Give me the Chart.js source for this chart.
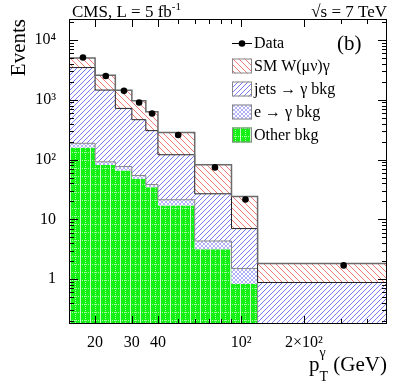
<!DOCTYPE html>
<html><head><meta charset="utf-8">
<script src="https://cdn.jsdelivr.net/npm/chart.js@4"></script>
<style>html,body{margin:0;padding:0;background:#fff}</style>
</head><body>
<canvas id="c" width="407" height="391"></canvas>
<script>
// ---- data ----
const binEdges=[15,20,25,30,35,40,60,90,120,500];          // pT bin edges (GeV)
const dataCenters=[17.5,22.5,27.5,32.5,37.5,50,75,105,310];
const dataCounts=[5100,2500,1410,900,590,258,74,21.5,1.7];
const otherBkg=[158,81,65.6,47.7,34.5,17.1,3.16,0.83,0.05];
const eToGamma=[29,10.6,10.8,6.4,3.8,4.2,1.19,0.68,0.03];
const jetsToGamma=[3266,1360,640,410,266,99,22.4,5.5,0.80];
const smWgamma=[1559,1129,723,498,327,162,54.8,17,0.95];
const xTickValues=[20,30,40,100,200];
const xTickLabels=['20','30','40','10²','2×10²'];
const yTickValues=[1,10,100,1000,10000];
const yTickLabels=['1','10','10²','10³','10⁴'];
const xTickMarks=[20,30,40,50,60,70,80,90,100,200,300,400];

const canvas=document.getElementById('c');
const ctx=canvas.getContext('2d');

function cumulative(arrs){let acc=arrs[0].map(()=>0);return arrs.map(a=>{acc=acc.map((v,i)=>v+a[i]);return acc.slice();});}
const [cGreen,cE,cJets,cSM]=cumulative([otherBkg,eToGamma,jetsToGamma,smWgamma]);
function steps(vals){const p=binEdges.slice(0,-1).map((e,i)=>({x:e,y:vals[i]}));p.push({x:binEdges[binEdges.length-1],y:vals[vals.length-1]});return p;}

function hatch(color,dir,s,lw){
  const c=document.createElement('canvas');c.width=s;c.height=s;const g=c.getContext('2d');
  g.fillStyle='#fff';g.fillRect(0,0,s,s);g.strokeStyle=color;g.lineWidth=lw;g.beginPath();
  if(dir==='/'||dir==='x'){g.moveTo(-1,s+1);g.lineTo(s+1,-1);g.moveTo(-1,1);g.lineTo(1,-1);g.moveTo(s-1,s+1);g.lineTo(s+1,s-1);}
  if(dir==='\\'||dir==='x'){g.moveTo(-1,-1);g.lineTo(s+1,s+1);g.moveTo(s-1,-1);g.lineTo(s+1,1);g.moveTo(-1,s-1);g.lineTo(1,s+1);}
  g.stroke();return ctx.createPattern(c,'repeat');
}
function greenPat(){
  const c=document.createElement('canvas');c.width=10;c.height=8;const g=c.getContext('2d');
  g.fillStyle='#14f014';g.fillRect(0,0,10,8);
  g.fillStyle='rgba(255,255,255,0.75)';g.fillRect(0,0,1,8);
  g.fillStyle='rgba(255,255,255,0.6)';
  for(let i=0;i<10;i+=2)g.fillRect(i,0,1,1);
  for(let j=0;j<8;j+=2)g.fillRect(5,j,1,1);
  return ctx.createPattern(c,'repeat');
}
const redP=hatch('#f07a7a','\\',6,1);
const blueP=hatch('#6a6af2','/',5,0.9);
const crossP=hatch('#9090f0','x',4,0.7);
const greenP=greenPat();

const SERIF='"Liberation Serif","DejaVu Serif",serif';

const rootPlugin={id:'root',afterDraw(chart){
  const {chartArea:a,scales:{x,y}}=chart;const g=chart.ctx;g.save();
  // frame
  g.strokeStyle='#000';g.lineWidth=1;
  g.strokeRect(Math.round(a.left)+0.5,Math.round(a.top)+0.5,Math.round(a.right-a.left)-1,Math.round(a.bottom-a.top)-1);
  g.beginPath();
  xTickMarks.forEach(v=>{const px=Math.round(x.getPixelForValue(v))+0.5;const L=xTickValues.includes(v)?8:5;
    g.moveTo(px,a.bottom);g.lineTo(px,a.bottom-L);g.moveTo(px,a.top);g.lineTo(px,a.top+L);});
  for(let d=0.1;d<=10000;d*=10){for(let k=1;k<10;k++){const v=d*k;if(v<y.min||v>y.max)continue;
    const py=Math.round(y.getPixelForValue(v))+0.5;const L=k===1?9:5;
    g.moveTo(a.left,py);g.lineTo(a.left+L,py);g.moveTo(a.right,py);g.lineTo(a.right-L,py);}}
  g.stroke();
  // titles
  g.fillStyle='#000';g.textBaseline='alphabetic';
  g.font='17px '+SERIF;g.textAlign='left';
  const t1='CMS, L = 5 fb';g.fillText(t1,72,16.5);const w1=g.measureText(t1).width;
  g.font='11px '+SERIF;g.fillText('-1',72+w1,10);
  g.font='17px '+SERIF;g.textAlign='right';g.fillText('\u221As = 7 TeV',387,16.5);
  // y title
  g.save();g.translate(25,19);g.rotate(-Math.PI/2);g.font='21px '+SERIF;g.textAlign='right';g.fillText('Events',0,0);g.restore();
  // x title
  g.font='21px '+SERIF;g.textAlign='left';
  const tail=' (GeV)';const wt=g.measureText(tail).width;const wp=g.measureText('p').width;
  g.font='14px '+SERIF;const ws=Math.max(g.measureText('T').width,g.measureText('\u03B3').width);
  const x0=387-wt-ws-wp;
  g.font='21px '+SERIF;g.fillText('p',x0,371);g.fillText(tail,x0+wp+ws,371);
  g.font='14px '+SERIF;g.fillText('T',x0+wp,381);g.fillText('\u03B3',x0+wp,357);
  // (b)
  g.font='21px '+SERIF;g.textAlign='left';g.fillText('(b)',337,50);
  // legend
  g.font='16px '+SERIF;g.textBaseline='middle';
  g.beginPath();g.moveTo(232,43.5);g.lineTo(252,43.5);g.strokeStyle='#000';g.lineWidth=1;g.stroke();
  g.beginPath();g.arc(242,43.5,3.3,0,2*Math.PI);g.fill();
  g.fillText('Data',254,44);
  const items=[[redP,'SM W(\u03BC\u03BD)\u03B3',66],[blueP,'jets \u2192 \u03B3 bkg',89],[crossP,'e \u2192 \u03B3 bkg',112],[greenP,'Other bkg',135]];
  items.forEach(([p,t,cy])=>{g.fillStyle=p;g.fillRect(232,cy-7.5,20,15);g.strokeStyle='#888';g.strokeRect(232.5,cy-7,19,14);
    g.fillStyle='#000';g.fillText(t,254,cy+0.5);});
  g.restore();
}};

const line=(label,vals,bg,fill,bc,bw)=>({type:'line',label,data:steps(vals),stepped:true,fill,backgroundColor:bg,
  borderColor:bc,borderWidth:bw,pointRadius:0,tension:0});

new Chart(ctx,{
  data:{datasets:[
    {type:'scatter',label:'Data',data:dataCenters.map((c,i)=>({x:c,y:dataCounts[i]})),pointRadius:3.3,pointHoverRadius:3.3,
      backgroundColor:'#000',borderColor:'#000',borderWidth:0},
    line('SM W(\u03BC\u03BD)\u03B3',cSM,redP,'+1','#6a6a6a',1.5),
    line('jets \u2192 \u03B3 bkg',cJets,blueP,'+1','#222',1),
    line('e \u2192 \u03B3 bkg',cE,crossP,'+1','#888',1),
    line('Other bkg',cGreen,greenP,'start','rgba(0,0,0,0)',0)
  ]},
  options:{responsive:false,animation:false,devicePixelRatio:1,
    layout:{padding:{left:0,right:20,top:19,bottom:0}},
    plugins:{legend:{display:false},tooltip:{enabled:false},filler:{drawTime:'beforeDatasetsDraw'}},
    scales:{
      x:{type:'logarithmic',min:15,max:500,grid:{display:false},border:{display:false},
        afterFit:s=>{s.height=67;},
        afterBuildTicks:s=>{s.ticks=xTickValues.map(v=>({value:v}));},
        ticks:{autoSkip:false,maxRotation:0,padding:1,color:'#000',font:{family:SERIF,size:16},
          callback:(v)=>{const i=xTickValues.indexOf(v);return i>=0?xTickLabels[i]:'';}}},
      y:{type:'logarithmic',min:0.178,max:22400,grid:{display:false},border:{display:false},
        afterFit:s=>{s.width=69;},
        afterBuildTicks:s=>{s.ticks=yTickValues.map(v=>({value:v}));},
        ticks:{autoSkip:false,padding:5,color:'#000',font:{family:SERIF,size:16},
          callback:(v)=>{const i=yTickValues.indexOf(v);return i>=0?yTickLabels[i]:'';}}}
    }
  },
  plugins:[rootPlugin]
});
</script>
</body></html>
